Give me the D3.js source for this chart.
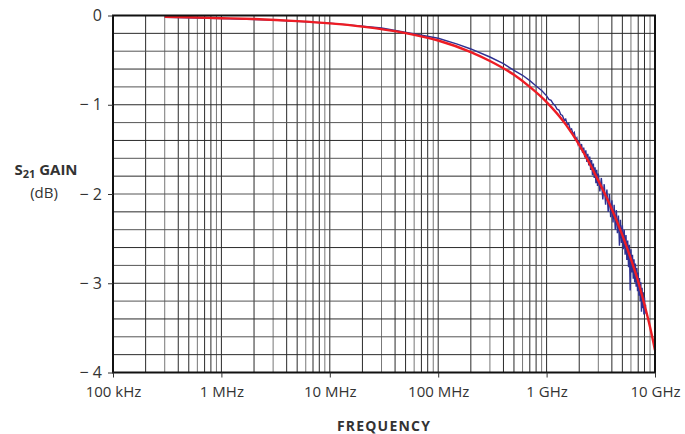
<!DOCTYPE html>
<html>
<head>
<meta charset="utf-8">
<script src="https://d3js.org/d3.v7.min.js"></script>
<style>
  body { margin: 0; background: #fff; }
  svg text { font-family: "Open Sans", "Liberation Sans", sans-serif; fill: #333; }
</style>
</head>
<body>
<svg id="chart" width="685" height="434"></svg>
<script>
// x tick labels (decades)
const xTicks = [1e5, 1e6, 1e7, 1e8, 1e9, 1e10];
const xTickLabels = ['100 kHz', '1 MHz', '10 MHz', '100 MHz', '1 GHz', '10 GHz'];
const yTicks = [0, -1, -2, -3, -4];

// model curve (red)
const modelFreq = [3e5, 5e5, 1e6, 2e6, 5e6, 1e7, 2e7, 5e7, 1e8, 2e8, 3e8, 5e8, 7e8,
  1e9, 1.5e9, 2e9, 3e9, 4e9, 5e9, 6e9, 7e9, 8e9, 9e9, 1e10];
const modelGain = [-0.015, -0.02, -0.03, -0.04, -0.063, -0.088, -0.124, -0.197, -0.28, -0.41, -0.51, -0.665, -0.8,
  -0.97, -1.22, -1.45, -1.85, -2.17, -2.46, -2.73, -2.98, -3.24, -3.49, -3.75];

// measured curve (blue), frequency in Hz
const measFreq = [3e5, 1e6, 3e6, 1e7, 3e7, 1e8, 1.5e8, 2e8, 3e8, 4e8, 5e8, 6e8, 7e8, 8e8, 9e8,
  1.0e9, 1.05e9, 1.1e9, 1.15e9, 1.2e9, 1.25e9, 1.3e9, 1.35e9, 1.4e9, 1.45e9,
  1.5e9, 1.55e9, 1.6e9, 1.65e9, 1.7e9, 1.75e9, 1.8e9, 1.85e9, 1.9e9, 1.95e9,
  2.0e9, 2.05e9, 2.1e9, 2.15e9, 2.2e9, 2.25e9, 2.3e9, 2.35e9, 2.4e9, 2.45e9,
  2.5e9, 2.55e9, 2.6e9, 2.65e9, 2.7e9, 2.75e9, 2.8e9, 2.85e9, 2.9e9, 2.95e9,
  3.0e9, 3.1e9, 3.2e9, 3.3e9, 3.4e9, 3.5e9, 3.6e9, 3.7e9, 3.8e9, 3.9e9,
  4.0e9, 4.1e9, 4.2e9, 4.3e9, 4.4e9, 4.5e9, 4.6e9, 4.7e9, 4.8e9, 4.9e9,
  5.0e9, 5.1e9, 5.2e9, 5.3e9, 5.4e9, 5.5e9, 5.6e9, 5.7e9, 5.8e9, 5.9e9,
  6.0e9, 6.1e9, 6.2e9, 6.3e9, 6.4e9, 6.5e9, 6.6e9, 6.7e9, 6.8e9, 6.9e9,
  7.0e9, 7.1e9, 7.2e9, 7.3e9, 7.4e9, 7.5e9, 7.6e9, 7.7e9, 7.8e9, 7.9e9,
  8.0e9, 8.1e9, 8.2e9];
const measGain = [-0.02, -0.035, -0.05, -0.085, -0.14, -0.255, -0.32, -0.375, -0.465, -0.54, -0.615, -0.67, -0.73, -0.79, -0.84,
  -0.90, -0.94, -0.95, -0.99, -1.01, -1.05, -1.06, -1.11, -1.12, -1.17,
  -1.16, -1.22, -1.21, -1.28, -1.27, -1.33, -1.31, -1.39, -1.37, -1.44,
  -1.40, -1.50, -1.44, -1.54, -1.48, -1.59, -1.51, -1.64, -1.55, -1.68,
  -1.58, -1.73, -1.62, -1.79, -1.66, -1.82, -1.70, -1.88, -1.73, -1.91,
  -1.77, -1.97, -1.82, -2.06, -1.89, -2.12, -1.95, -2.20, -2.00, -2.26,
  -2.07, -2.32, -2.12, -2.40, -2.18, -2.44, -2.24, -2.58, -2.29, -2.55,
  -2.35, -2.62, -2.40, -2.68, -2.46, -2.74, -2.52, -2.82, -2.57, -3.08,
  -2.62, -2.88, -2.68, -2.95, -2.73, -2.99, -2.78, -3.04, -2.83, -3.09,
  -2.88, -3.14, -2.94, -3.20, -2.99, -3.32, -3.05, -3.28, -3.10, -3.35,
  -3.16, -3.34, -3.24];

const svg = d3.select('#chart');
const plotL = 113, plotR = 655, plotT = 15.5, plotB = 372.5;

const x = d3.scaleLog().domain([1e5, 1e10]).range([plotL, plotR]);
const y = d3.scaleLinear().domain([-4, 0]).range([plotB, plotT]);

// grid
const grid = svg.append('g');
const vLines = [];
for (let e = 5; e < 10; e++) {
  for (let m = 1; m < 10; m++) vLines.push(m * Math.pow(10, e));
}
grid.selectAll('line.v')
  .data(vLines.filter(d => d > 1e5))
  .enter().append('line')
    .attr('x1', d => x(d)).attr('x2', d => x(d))
    .attr('y1', plotT).attr('y2', plotB)
    .attr('stroke', (d, i) => i % 3 === 1 ? '#777' : '#2a2a2a').attr('stroke-width', 1);
grid.selectAll('line.h')
  .data(d3.range(1, 20).map(i => -i * 0.2))
  .enter().append('line')
    .attr('x1', plotL).attr('x2', plotR)
    .attr('y1', d => y(d)).attr('y2', d => y(d))
    .attr('stroke', (d, i) => i % 2 ? '#555' : '#2a2a2a').attr('stroke-width', 1);

// curves
const lineGen = (fs) => d3.line().x((d, i) => x(fs[i])).y(d => y(d));
svg.append('path')
  .attr('d', lineGen(measFreq)(measGain))
  .attr('fill', 'none').attr('stroke', '#2e3192').attr('stroke-width', 1.4);
svg.append('path')
  .attr('d', lineGen(modelFreq).curve(d3.curveMonotoneX)(modelGain))
  .attr('fill', 'none').attr('stroke', '#ed1c24').attr('stroke-width', 2.4);

// frame
svg.append('rect')
  .attr('x', plotL).attr('y', plotT)
  .attr('width', plotR - plotL).attr('height', plotB - plotT)
  .attr('fill', 'none').attr('stroke', '#111').attr('stroke-width', 2);

// axes
const xAxis = svg.append('g')
  .attr('transform', `translate(0,${plotB})`)
  .call(d3.axisBottom(x).tickValues(xTicks).tickSize(5)
    .tickFormat((d, i) => xTickLabels[i]));
xAxis.select('.domain').remove();
xAxis.selectAll('line').attr('stroke', '#333');
xAxis.selectAll('text').attr('font-size', 15).attr('y', 14).attr('dy', '0.71em')
  .style('font-family', '"Open Sans", sans-serif').attr('fill', '#333');

const yAxis = svg.append('g')
  .attr('transform', `translate(${plotL},0)`)
  .call(d3.axisLeft(y).tickValues(yTicks).tickSize(5)
    .tickFormat(d => d === 0 ? '0' : '\u2212 ' + Math.abs(d)));
yAxis.select('.domain').remove();
yAxis.selectAll('line').attr('stroke', '#333');
yAxis.selectAll('text').attr('font-size', 16).attr('x', -11)
  .style('font-family', '"Open Sans", sans-serif').attr('fill', '#333');

// axis titles
svg.append('text')
  .attr('x', (plotL + plotR) / 2).attr('y', 431)
  .attr('text-anchor', 'middle').attr('font-size', 14).attr('font-weight', 'bold')
  .attr('letter-spacing', 1.2)
  .text('FREQUENCY');

const yt = svg.append('text')
  .attr('x', 46).attr('y', 175)
  .attr('text-anchor', 'middle').attr('font-size', 15).attr('font-weight', 'bold');
yt.append('tspan').text('S');
yt.append('tspan').attr('font-size', 11).attr('dy', 3).text('21');
yt.append('tspan').attr('dy', -3).text(' GAIN');

svg.append('text')
  .attr('x', 44).attr('y', 198)
  .attr('text-anchor', 'middle').attr('font-size', 15)
  .text('(dB)');
</script>
</body>
</html>
